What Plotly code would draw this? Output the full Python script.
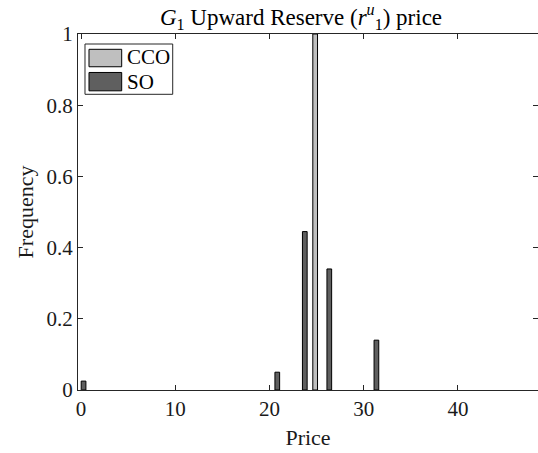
import plotly.graph_objects as go

# Data (probability-normalised histograms)
cco_price = [24.85]
cco_freq = [1.0]
so_price = [0.27, 20.83, 23.75, 26.35, 31.35]
so_freq = [0.025, 0.05, 0.445, 0.34, 0.14]
bin_width = 0.5

x_ticks = [0, 10, 20, 30, 40]
y_ticks = [0, 0.2, 0.4, 0.6, 0.8, 1]
y_tick_text = ["0", "0.2", "0.4", "0.6", "0.8", "1"]

FONT = "Liberation Serif"
AX = "#262626"
CCO_COLOR = "#bfbfbf"
SO_COLOR = "#5f5f5f"

fig = go.Figure()
fig.add_trace(go.Bar(x=cco_price, y=cco_freq, width=bin_width, name="CCO",
                     marker=dict(color=CCO_COLOR, line=dict(color="black", width=1))))
fig.add_trace(go.Bar(x=so_price, y=so_freq, width=bin_width, name="SO",
                     marker=dict(color=SO_COLOR, line=dict(color="black", width=1))))

axis_common = dict(showgrid=False, zeroline=False, showline=True, linecolor=AX,
                   linewidth=1, ticks="inside", ticklen=5, tickcolor=AX,
                   mirror="ticks", automargin=False,
                   tickfont=dict(family=FONT, size=21, color="#1a1a1a"))

fig.update_layout(
    width=538, height=453,
    margin=dict(l=78, r=0, t=34, b=63, autoexpand=False),
    plot_bgcolor="white", paper_bgcolor="white",
    barmode="overlay", showlegend=False,
    title=dict(text="<i>G</i><sub>1</sub> Upward Reserve (<i>r</i><sup><i>u</i></sup><sub>1</sub>) price",
               x=301 / 538, xref="container", xanchor="center",
               y=1 - 17 / 453, yref="container", yanchor="middle", automargin=False,
               font=dict(family=FONT, size=23, color="black")),
    xaxis=dict(range=[-0.32, 48.5], tickvals=x_ticks,
               title=dict(text="Price", font=dict(family=FONT, size=22, color="#1a1a1a"), standoff=9),
               **axis_common),
    yaxis=dict(range=[0, 1], tickvals=y_ticks, ticktext=y_tick_text,
               title=dict(text="Frequency", font=dict(family=FONT, size=22, color="#1a1a1a"), standoff=6),
               **axis_common),
)

# Legend drawn in MATLAB style (box with wide patches)
fig.add_shape(type="rect", xref="paper", yref="paper", x0=0.0152, x1=0.2059,
              y0=0.8306, y1=0.9719, line=dict(color=AX, width=1), fillcolor="white")
legend_items = [("CCO", CCO_COLOR, 0.908, 0.957, 0.9343),
                ("SO", SO_COLOR, 0.8404, 0.8919, 0.866)]
for name, col, y0, y1, yt in legend_items:
    fig.add_shape(type="rect", xref="paper", yref="paper", x0=0.0239, x1=0.0950,
                  y0=y0, y1=y1, line=dict(color="black", width=1), fillcolor=col)
    fig.add_annotation(text=name, xref="paper", yref="paper", x=0.1022, y=yt,
                       xanchor="left", yanchor="middle", showarrow=False,
                       font=dict(family=FONT, size=21, color="black"))

fig.write_html("out.html", config={"displayModeBar": False},
               post_script="document.body.style.margin='0';document.body.style.overflow='hidden';")
